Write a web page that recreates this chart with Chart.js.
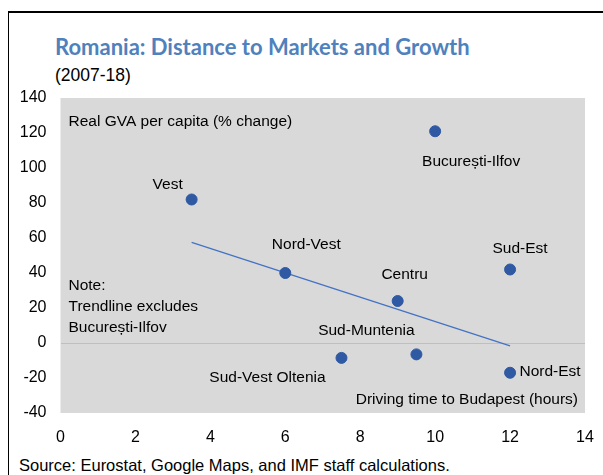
<!DOCTYPE html>
<html>
<head>
<meta charset="utf-8">
<script src="https://cdn.jsdelivr.net/npm/chart.js@4"></script>
<style>
  html, body { margin: 0; padding: 0; background: #fff; }
  #wrap { position: relative; width: 603px; height: 475px; overflow: hidden; font-family: 'Liberation Sans', Arial, sans-serif; }
  #frame { position: absolute; left: 8px; top: 11px; width: 620px; height: 500px; border-top: 2px solid #000; border-left: 1px solid #000; }
  #title { position: absolute; left: 55px; top: 34px; font-family: Lato, 'Liberation Sans', sans-serif; font-size: 22px; font-weight: bold; color: #4f81bd; white-space: nowrap; line-height: 26px; }
  #subtitle { position: absolute; left: 55px; top: 64px; font-size: 17.5px; color: #000; white-space: nowrap; line-height: 22px; }
  #source { position: absolute; left: 19px; top: 456px; font-size: 16.5px; color: #000; white-space: nowrap; line-height: 18px; }
  canvas { position: absolute; left: 0; top: 0; }
</style>
</head>
<body>
<div id="wrap">
  <div id="frame"></div>
  <div id="title">Romania: Distance to Markets and Growth</div>
  <div id="subtitle">(2007-18)</div>
  <div id="source">Source: Eurostat, Google Maps, and IMF staff calculations.</div>
  <canvas id="c" width="603" height="475"></canvas>
</div>
<script>
// ---- data ----
const regions = ['Vest', 'București-Ilfov', 'Sud-Est', 'Nord-Vest', 'Centru', 'Sud-Muntenia', 'Sud-Vest Oltenia', 'Nord-Est'];
const drivingHours = [3.5, 10, 12, 6, 9, 9.5, 7.5, 12];
const gvaChange = [82, 121, 42, 40, 24, -6.5, -8.5, -17];
const trendX = [3.5, 12];
const trendY = [57.5, -1.7];
const xTicks = [0, 2, 4, 6, 8, 10, 12, 14];
const yTicks = [-40, -20, 0, 20, 40, 60, 80, 100, 120, 140];

// ---- label styling (offsets in px from point) ----
const labelOffsets = [[-24, -15], [36, 30], [10, -21], [21, -28], [7, -26], [-50, -24], [-74, 20], [40, -1]];

const FONT = "'Liberation Sans', Arial, sans-serif";
const FS = 15.5;

const bgPlugin = {
  id: 'bg',
  beforeDraw(chart) {
    const { ctx, chartArea: a } = chart;
    ctx.save();
    ctx.fillStyle = '#d9d9d9';
    ctx.fillRect(a.left, a.top, a.right - a.left, a.bottom - a.top);
    ctx.restore();
  }
};

const textPlugin = {
  id: 'texts',
  afterDatasetsDraw(chart) {
    const { ctx, chartArea: a } = chart;
    const meta = chart.getDatasetMeta(1);
    ctx.save();
    ctx.fillStyle = '#000';
    ctx.font = FS + 'px ' + FONT;
    ctx.textBaseline = 'middle';
    ctx.textAlign = 'center';
    meta.data.forEach((pt, i) => {
      const [dx, dy] = labelOffsets[i];
      ctx.fillText(regions[i], pt.x + dx, pt.y + dy);
    });
    ctx.textAlign = 'left';
    ctx.fillText('Real GVA per capita (% change)', a.left + 8, a.top + 24);
    ctx.fillText('Note:', a.left + 8, a.top + 188);
    ctx.fillText('Trendline excludes', a.left + 8, a.top + 209);
    ctx.fillText('București-Ilfov', a.left + 8, a.top + 230);
    ctx.textAlign = 'right';
    ctx.fillText('Driving time to Budapest (hours)', a.right - 7, a.bottom - 13);
    ctx.restore();
  }
};

new Chart(document.getElementById('c'), {
  type: 'scatter',
  data: {
    datasets: [
      {
        type: 'line',
        data: trendX.map((x, i) => ({ x, y: trendY[i] })),
        borderColor: '#4472c4',
        borderWidth: 1.3,
        pointRadius: 0,
        fill: false,
        order: 2
      },
      {
        data: drivingHours.map((x, i) => ({ x, y: gvaChange[i] })),
        backgroundColor: '#2f59a3',
        borderColor: '#2f59a3',
        pointRadius: 5.5,
        pointHoverRadius: 5.5,
        order: 1
      }
    ]
  },
  options: {
    responsive: false,
    animation: false,
    events: [],
    layout: { padding: { top: 98, right: 18, bottom: 0, left: 0 } },
    plugins: { legend: { display: false }, tooltip: { enabled: false }, title: { display: false } },
    scales: {
      x: {
        type: 'linear',
        min: 0, max: 14,
        afterBuildTicks(s) { s.ticks = xTicks.map(v => ({ value: v })); },
        afterFit(s) { s.height = 62; },
        grid: { display: false },
        border: { display: false },
        ticks: { color: '#000', font: { family: FONT, size: 16 }, padding: 7 }
      },
      y: {
        type: 'linear',
        min: -40, max: 140,
        afterBuildTicks(s) { s.ticks = yTicks.map(v => ({ value: v })); },
        afterFit(s) { s.width = 60.5; },
        grid: {
          drawTicks: false,
          color: ctx => (ctx.tick && ctx.tick.value === 0 ? '#bfbfbf' : 'rgba(0,0,0,0)'),
          lineWidth: 1
        },
        border: { display: false },
        ticks: { color: '#000', font: { family: FONT, size: 16 }, padding: 14 }
      }
    }
  },
  plugins: [bgPlugin, textPlugin]
});
</script>
</body>
</html>
